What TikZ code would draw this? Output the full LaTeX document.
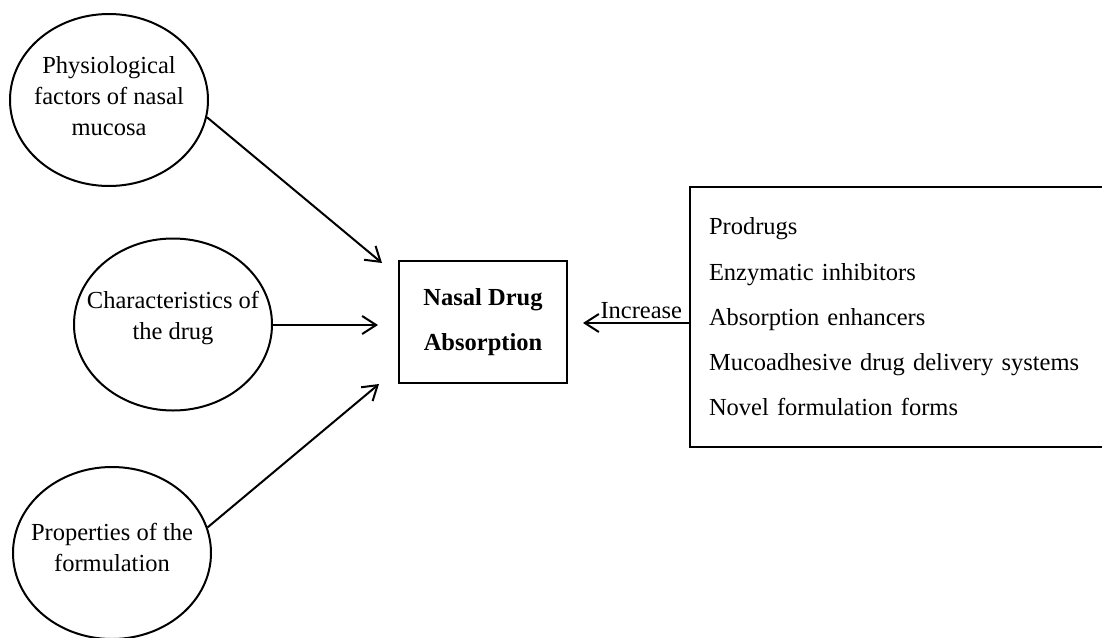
\documentclass[tikz,border=0pt]{standalone}
\usepackage{fontspec}
\setmainfont{Liberation Serif}
\usetikzlibrary{shapes.geometric,arrows.meta}
\begin{document}
\begin{tikzpicture}[x=1pt,y=-1pt,
  every node/.style={font=\fontsize{24.5}{30}\selectfont},
  oval/.style={draw, ellipse, line width=2pt, inner sep=0pt,
    minimum width=198pt, minimum height=172pt},
  ovaltext/.style={align=center, inner sep=0pt, font=\fontsize{24.5}{31}\selectfont},
  conn/.style={line width=2pt, -{Straight Barb[length=14pt,width=18pt,line width=2pt]}},
  ]
\useasboundingbox (0,0) rectangle (1102,637);
\node[oval] (phys) at (109,100) {};
\node[ovaltext] (physt) at (109,96) {Physiological\\factors of nasal\\mucosa};
\node[oval] (char) at (173,324.5) {};
\node[ovaltext] (chart) at (173,318) {Characteristics of\\the drug};
\node[oval] (form) at (112,553) {};
\node[ovaltext] (formt) at (112,547) {Properties of the\\formulation};
\node[draw, line width=2pt, minimum width=168pt, minimum height=122pt,
  align=center, font=\fontsize{24.5}{45}\selectfont\bfseries] (nda) at (483,322)
  {Nasal Drug\\Absorption};
\node[draw, line width=2pt, minimum height=260pt, inner xsep=19pt, text width=376pt,
  align=left, font=\fontsize{24.5}{45.3}\selectfont] (list) at (897,317)
  {Prodrugs\\Enzymatic inhibitors\\Absorption enhancers\\Mucoadhesive drug delivery systems\\Novel formulation forms};
\coordinate (t1) at (382,263);
\coordinate (t2) at (378,325);
\coordinate (t3) at (379,384);
\coordinate (t4) at (583,323);
\coordinate (s4) at (list.west |- t4);
\draw[conn] (phys.-10) -- (t1);
\draw[conn] (char.east |- t2) -- (t2);
\draw[conn] (form.15) -- (t3);
\draw[conn] (s4) -- node[pos=0.45, above, inner sep=3pt] (inc) {Increase} (t4);
\end{tikzpicture}
\end{document}
